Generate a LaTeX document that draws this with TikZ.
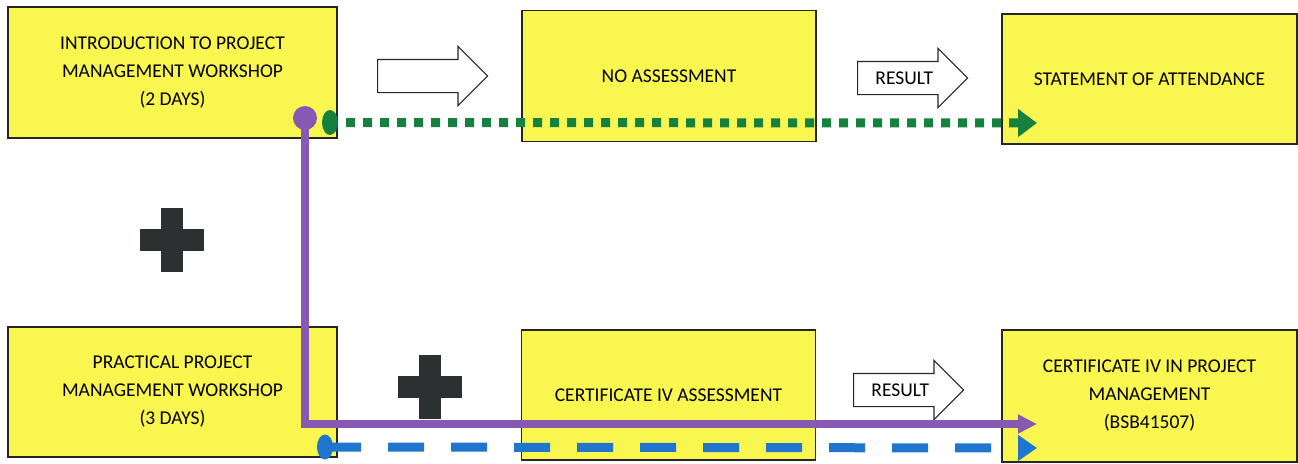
\documentclass[tikz,border=0pt]{standalone}
\usepackage{fontspec}
\setmainfont{Carlito}
\usetikzlibrary{shapes.geometric,shapes.arrows,arrows.meta}
\definecolor{boxyellow}{RGB}{250,246,80}
\definecolor{pathpurple}{RGB}{134,90,178}
\definecolor{pathgreen}{RGB}{22,128,62}
\definecolor{pathblue}{RGB}{32,118,206}
\definecolor{plusgrey}{RGB}{45,48,48}

\begin{document}
\begin{tikzpicture}[x=1pt,y=-1pt]
        \tikzstyle{stage}=[draw=black!85, line width=1.2pt, fill=boxyellow, align=center,
            minimum width=329pt, minimum height=131pt, font=\fontsize{19.5}{28}\selectfont]
        \tikzstyle{narrow}=[minimum width=294pt]
        \tikzstyle{hollow}=[single arrow, draw=black!85, line width=1.1pt, fill=white,
            anchor=tail, minimum height=110pt, minimum width=58pt, single arrow head extend=13pt,
            inner xsep=2pt, inner ysep=1pt, text height=21pt, text depth=9pt,
            font=\fontsize{19.5}{28}\selectfont]
        \tikzstyle{dot}=[inner sep=0pt, draw=none]

        \useasboundingbox (0,0) rectangle (1298,463);

        % top row
        \node (intro)     [stage] at (172.5,72.5) {INTRODUCTION TO PROJECT\\MANAGEMENT WORKSHOP\\(2 DAYS)};
        \node (noassess)  [stage, narrow] at (669,76) {NO ASSESSMENT};
        \node (attend)    [stage, narrow, minimum width=295pt, minimum height=130pt] at (1149.5,79) {STATEMENT OF ATTENDANCE};

        % bottom row
        \node (practical) [stage, minimum height=130pt] at (172.5,392) {PRACTICAL PROJECT\\MANAGEMENT WORKSHOP\\(3 DAYS)};
        \node (certassess)[stage, narrow, minimum height=130pt] at (668.5,395) {CERTIFICATE IV ASSESSMENT};
        \node (certiv)    [stage, narrow, minimum width=295pt, minimum height=132pt] at (1149.5,396) {CERTIFICATE IV IN PROJECT\\MANAGEMENT\\(BSB41507)};

        \node (go)   [hollow] at (377,76) {};
        \node (res1) [hollow] at (857,78) {RESULT};
        \node (res2) [hollow] at (853,390) {RESULT};

        \foreach \cx/\cy in {172/240, 430/387} {
            \fill[plusgrey] (\cx-32,\cy-11) rectangle (\cx+32,\cy+11);
            \fill[plusgrey] (\cx-11,\cy-32) rectangle (\cx+11,\cy+32);
        }

        \node (pdot) [dot, circle, fill=pathpurple, minimum size=24pt] at (305,118) {};
        \node (gdot) [dot, ellipse, fill=pathgreen, minimum width=16pt, minimum height=25pt] at (330,122.5) {};
        \node (bdot) [dot, ellipse, fill=pathblue, minimum width=16pt, minimum height=25pt] at (325,447) {};

        \coordinate (gend) at (1037,123);
        \coordinate (pend) at (1037,424);
        \coordinate (bend) at (1037,448);

        \draw[pathgreen, line width=9pt, dash pattern=on 9pt off 8pt, dash phase=9pt,
            -{Triangle[length=19pt,width=27pt]}] (gdot.east) -- (gend);
        \draw[pathpurple, line width=8pt, -{Triangle[length=19pt,width=18pt]}] (pdot.center) |- (pend);
        \draw[pathblue, line width=9pt, dash pattern=on 36pt off 27pt,
            -{Triangle[length=19pt,width=25pt]}] (bdot.center) -- (bend);

    \end{tikzpicture}
\end{document}
